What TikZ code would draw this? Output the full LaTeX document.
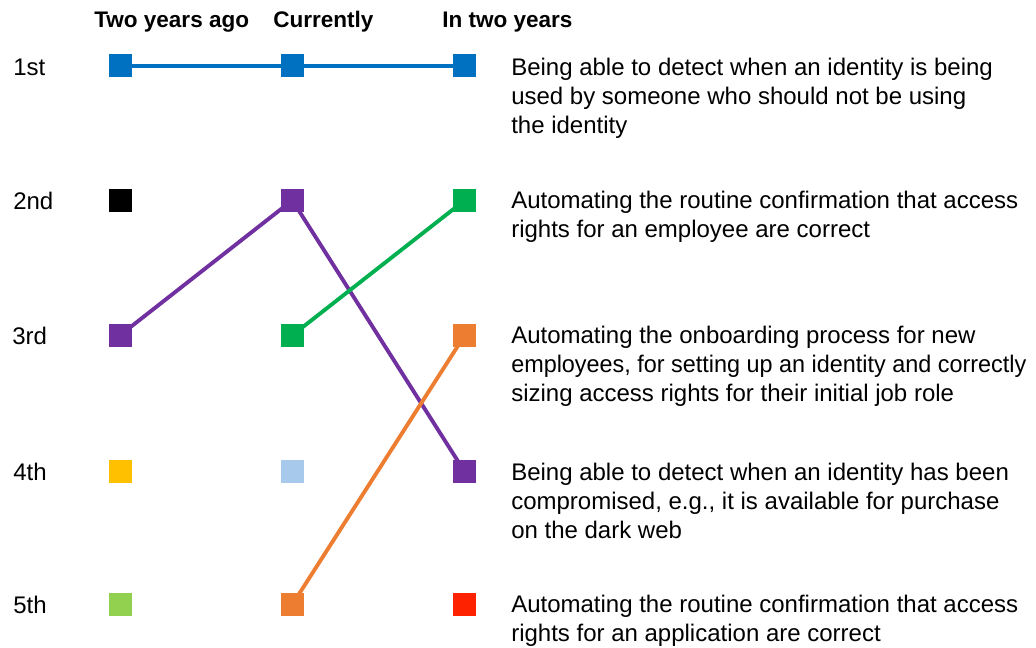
\documentclass[tikz,border=0pt]{standalone}
\usepackage{fontspec}
\usepackage{graphicx}
\setmainfont{Liberation Sans}
\definecolor{cblue}{HTML}{0070C0}
\definecolor{cpurple}{HTML}{7030A0}
\definecolor{cgreen}{HTML}{00B050}
\definecolor{corange}{HTML}{ED7D31}
\definecolor{cyellow}{HTML}{FFC000}
\definecolor{clblue}{HTML}{A6C9EC}
\definecolor{clgreen}{HTML}{92D050}
\definecolor{cred}{HTML}{FF2200}
\begin{document}
\begin{tikzpicture}[x=0.75pt,y=-0.75pt,
  sq/.style={rectangle,minimum size=17.25pt,inner sep=0pt,fill=#1},
  conn/.style={line width=2.9pt,draw=#1},
  head/.style={anchor=base west,inner sep=0pt,font=\fontsize{16.9pt}{20pt}\selectfont\bfseries},
  rank/.style={anchor=base west,inner sep=0pt,font=\fontsize{18pt}{21.75pt}\selectfont},
  desc/.style={anchor=base west,inner sep=0pt,align=left,font=\fontsize{18pt}{21.75pt}\selectfont}]
\useasboundingbox[fill=white] (0,0) rectangle (1036,647);
% headers
\node[head] (h1) at (94,27) {Two years ago};
\node[head] (h2) at (273,27) {Currently};
\node[head] (h3) at (442,27) {In two years};
% ranks
\node[rank] (r1) at (13,75) {1st};
\node[rank] (r2) at (13,209) {2nd};
\node[rank] (r3) at (12,344) {3rd};
\node[rank] (r4) at (13,480) {4th};
\node[rank] (r5) at (13,613) {5th};
% connectors first (below squares)
\coordinate (a1) at (120,65.7);
\coordinate (b1) at (292.3,65.7);
\coordinate (c1) at (464.7,65.7);
\coordinate (b2) at (292.3,200.3);
\coordinate (c2) at (464.7,200.3);
\coordinate (a3) at (120,335.3);
\coordinate (b3) at (292.3,335.3);
\coordinate (c3) at (464.7,335.3);
\coordinate (c4) at (464.7,471.8);
\coordinate (b5) at (292.3,604.5);
\draw[conn=cblue] (a1) -- (b1) -- (c1);
\draw[conn=cpurple] (a3) -- (b2) -- (c4);
\draw[conn=cgreen] (b3) -- (c2);
\draw[conn=corange] (b5) -- (c3);
% squares
\node[sq=cblue] (A1) at (a1) {};
\node[sq=cblue] (B1) at (b1) {};
\node[sq=cblue] (C1) at (c1) {};
\node[sq=black] (A2) at (120,200.3) {};
\node[sq=cpurple] (B2) at (b2) {};
\node[sq=cgreen] (C2) at (c2) {};
\node[sq=cpurple] (A3) at (a3) {};
\node[sq=cgreen] (B3) at (b3) {};
\node[sq=corange] (C3) at (c3) {};
\node[sq=cyellow] (A4) at (120,471.8) {};
\node[sq=clblue] (B4) at (292.3,471.8) {};
\node[sq=cpurple] (C4) at (c4) {};
\node[sq=clgreen] (A5) at (120,604.5) {};
\node[sq=corange] (B5) at (b5) {};
\node[sq=cred] (C5) at (464.7,604.5) {};
% descriptions (base anchor = baseline of last line)
\node[desc] (d1) at (511,133) {Being able to detect when an identity is being\\used by someone who should not be using\\the identity};
\node[desc] (d2) at (511,237) {Automating the routine confirmation that access\\rights for an employee are correct};
\node[desc] (d3) at (511,401) {Automating the onboarding process for new\\\scalebox{0.975}[1]{employees, for setting up an identity and correctly}\\sizing access rights for their initial job role};
\node[desc] (d4) at (511,538) {Being able to detect when an identity has been\\compromised, e.g., it is available for purchase\\on the dark web};
\node[desc] (d5) at (511,641) {Automating the routine confirmation that access\\rights for an application are correct};
\end{tikzpicture}
\end{document}
